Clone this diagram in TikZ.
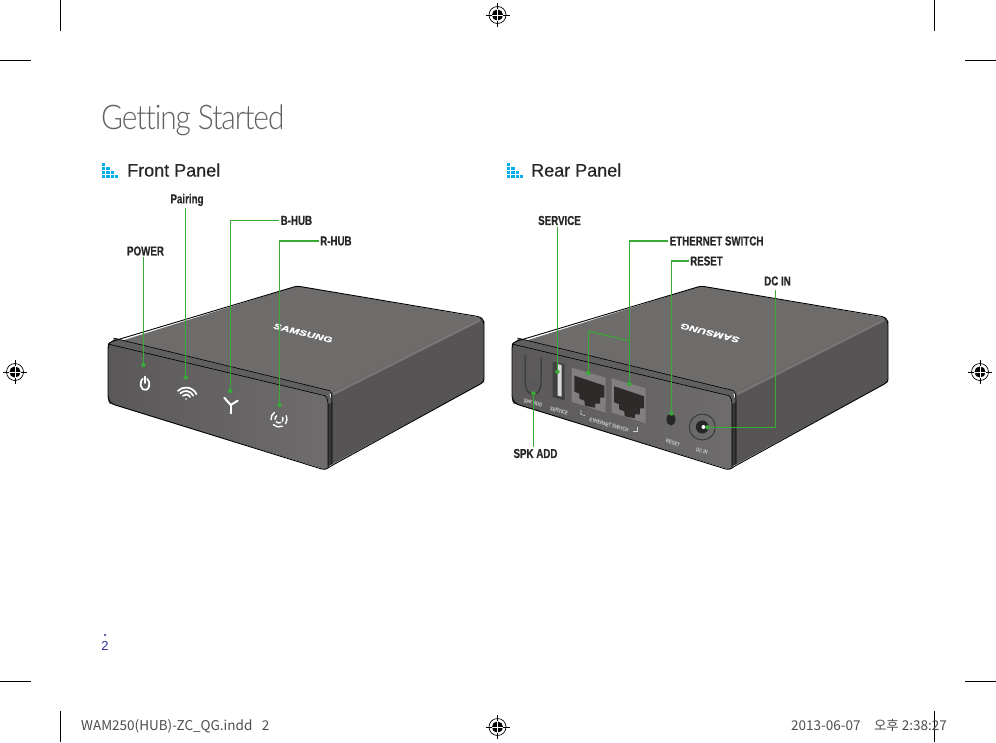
\documentclass[tikz,border=0pt]{standalone}
\usepackage{fontspec}
\setmainfont{Liberation Sans}
\newfontfamily\headfont[FakeBold=0.5]{Liberation Sans}
\newfontfamily\lblfont[FakeStretch=0.75,FakeBold=0.4]{Liberation Sans}
\newfontfamily\smallfont[FakeStretch=0.75]{Liberation Sans}
\newfontfamily\logofont[FakeStretch=1.45,FakeBold=1.2,LetterSpace=2]{Liberation Sans}
\newfontfamily\titlefont[UprightFont=* Light,FakeStretch=0.88,LetterSpace=-3.2,Ligatures=CommonOff]{Lato}
\newfontfamily\footfont{Noto Sans CJK KR}
\usetikzlibrary{positioning}
\usetikzlibrary{calc}
\definecolor{leadgreen}{RGB}{57,170,53}
\definecolor{barblue}{RGB}{0,174,239}
\definecolor{pageblue}{RGB}{46,49,146}
\definecolor{topface}{RGB}{110,107,107}
\definecolor{sideface}{RGB}{86,84,84}
\definecolor{edgelight}{RGB}{120,117,117}
\definecolor{panelleft}{RGB}{90,88,88}
\definecolor{panelright}{RGB}{110,108,108}
\definecolor{jackplate}{RGB}{128,126,126}
\definecolor{jackdark}{RGB}{45,42,42}
\tikzset{
    lbl/.style={font=\lblfont\bfseries\fontsize{13}{15}\selectfont, text=black!85, inner sep=1.5pt},
    heading/.style={font=\headfont\fontsize{18}{20}\selectfont, text=black!85, inner sep=0pt, anchor=base west},
    facetxt/.style={font=\smallfont\bfseries\fontsize{5.6}{6}\selectfont, text=white!82!black, inner sep=0pt, rotate=-16},
    logotxt/.style={font=\logofont\bfseries\itshape\fontsize{8}{9}\selectfont, text=white, inner sep=0pt},
    foot/.style={font=\footfont\fontsize{13.5}{15}\selectfont, text=black!70, inner sep=0pt, anchor=base west},
    leader/.style={draw=leadgreen, line width=1.1pt},
    leaddot/.style={circle, fill=leadgreen, inner sep=0pt, minimum size=4.4pt},
    icon/.style={draw=white, line width=1.7pt, line cap=round},
    hubshell/.pic={
        \fill[topface] (108,345) -- (297,286) -- (483,318) -- (330,394) -- cycle;
        \fill[sideface] (331,393) -- (481,318) -- (484,322) -- (484,382) -- (331,465) -- cycle;
        \draw[edgelight, line width=2.5pt] (333,394) -- (480,320);
        \fill[black!12!topface] (108,345) -- (115,338) -- (328,390) -- (332,402) -- (328,404) -- (322,395) -- cycle;
        \fill[black!35!sideface] (328,404) -- (332,402) -- (332,464) -- (328,467) -- cycle;
        \fill[left color=panelleft, right color=panelright] (108,344) -- (322,395) to[out=10,in=90] (328,404) -- (328,467) -- (325,469) -- (112,404) to[out=195,in=-90] (108,399) -- cycle;
        \draw[line width=0.9pt, rounded corners=3pt] (108,345) -- (110,342) -- (297,286) -- (481,317) -- (484,322) -- (484,382) -- (331,466) -- (325,470) -- (112,404) -- (108,399) -- cycle;
        \draw[line width=0.6pt] (113,338) -- (327,390) to[out=10,in=90] (332,402) -- (332,464);
        \draw[line width=0.6pt] (108,344) -- (322,395) to[out=10,in=90] (328,404) -- (328,467);
    },
    bars/.pic={
        \foreach \c/\t in {0/0,1/1,2/2,3/3}{
            \foreach \r in {\t,...,3}{
                \fill[barblue] (\c*4.25,\r*3.9) rectangle +(3.4,2.9);
            }
        }
    },
    regmark/.pic={
        \draw[line width=0.7pt] (0,0) circle (8.5pt);
        \fill (0,0) circle (5.6pt);
        \draw[line width=0.6pt] (-12,0) -- (12,0);
        \draw[line width=0.6pt] (0,-12) -- (0,12);
        \draw[white, line width=0.4pt] (-5.6,0) -- (5.6,0);
        \draw[white, line width=0.4pt] (0,-5.6) -- (0,5.6);
    },
    jack/.pic={
        \fill[jackplate] (0,0) -- (34,10) -- (34,45) -- (0,34) -- cycle;
        \fill[jackdark] (2.7,8) -- (32.7,18) -- (32.7,30) -- (28.3,30) -- (28.3,36) -- (23.3,36) -- (23.3,40) -- (13.3,38) -- (12.7,33) -- (7.7,31) -- (7.7,26) -- (2.7,24) -- cycle;
    }
}
\begin{document}
\begin{tikzpicture}[x=1pt, y=-1pt]
    \useasboundingbox (0,0) rectangle (996,742);

    % crop marks
    \foreach \mx in {60,934}{
        \draw[line width=0.8pt] (\mx,0) -- (\mx,31);
        \draw[line width=0.8pt] (\mx,711) -- (\mx,742);
    }
    \foreach \my in {60,681}{
        \draw[line width=0.8pt] (0,\my) -- (31,\my);
        \draw[line width=0.8pt] (965,\my) -- (996,\my);
    }
    \pic at (497.5,15) {regmark};
    \pic at (15,372) {regmark};
    \pic at (980,372) {regmark};
    \pic at (497.5,727) {regmark};

    % headings
    \node (title) [anchor=base west, inner sep=0pt, text=black!62, font=\titlefont\fontsize{34}{38}\selectfont] at (101,129) {Getting Started};
    \pic at (102,163) {bars};
    \pic at (507,163) {bars};
    \node (frontHead) [heading] at (127,176.5) {Front Panel};
    \node (rearHead) [heading] at (531,176.5) {Rear Panel};

    % both boxes
    \pic at (0,0) {hubshell};
    \pic at (404,0) {hubshell};
    \node (logoFront) [logotxt, rotate=-14] at (303,333) {SAMSUNG};
    \node (logoRear) [logotxt, rotate=166] at (710,333) {SAMSUNG};

    % front icons
    \begin{scope}[shift={(145,384)}, y=1pt]
        \draw[icon] (2.25,5.2) arc[start angle=60, end angle=-240, x radius=4.5pt, y radius=6pt];
        \draw[icon] (0,7.5) -- (0,1);
    \end{scope}
    \begin{scope}[shift={(186,399)}, y=1pt, rotate=-10]
        \fill[white] (0,0) circle (0.9pt);
        \foreach \rad in {4.5,8,11.5}{
            \draw[icon] (35:\rad pt) arc[start angle=35, end angle=145, radius=\rad pt];
        }
    \end{scope}
    \begin{scope}[shift={(230.7,405)}]
        \draw[icon, line width=2pt] (-6.4,-7.3) -- (0,0) -- (7,-4.3);
        \draw[icon, line width=2pt] (0,0) -- (0,8.3);
    \end{scope}
    \begin{scope}[shift={(279,419)}, y=1pt, rotate=-15]
        \foreach \rad in {4,8}{
            \draw[icon, line width=1.4pt] (140:\rad pt) arc[start angle=140, end angle=200, radius=\rad pt];
            \draw[icon, line width=1.4pt] (40:\rad pt) arc[start angle=40, end angle=-20, radius=\rad pt];
            \draw[icon, line width=1.4pt] (240:\rad pt) arc[start angle=240, end angle=310, radius=\rad pt];
        }
    \end{scope}

    % rear details
    \draw[line width=1pt, black!80] (525,355) -- (525,380) .. controls (525,390) and (529,394) .. (533.3,395) .. controls (538,394) and (541,390) .. (541,382) -- (541,357);
    \fill[black!65] (533.3,383) circle (5pt);
    \fill[black!75] (552.5,361.5) -- (564.5,364) -- (564.5,400.5) -- (552.5,397) -- cycle;
    \fill[white!85!black] (557.5,364) -- (561.5,365) -- (561.5,396.5) -- (557.5,395.5) -- cycle;
    \pic at (571.7,367.7) {jack};
    \begin{scope}[shift={(611.5,378.3)}, scale=1.06]
        \pic at (0,0) {jack};
    \end{scope}
    \fill[black!85] (671,419.5) ellipse (4.5pt and 6pt);
    \draw[line width=0.8pt, black!80] (702.3,427) circle (13pt);
    \fill[black!85] (702.3,427) circle (6.5pt);
    \fill[white] (703.5,427) circle (2pt);
    \node (txtSpk) [facetxt] at (533,403) {SPK ADD};
    \node (txtService) [facetxt] at (559,411) {SERVICE};
    \node (txtEthernet) [facetxt] at (609,425) {ETHERNET SWITCH};
    \node (txtReset) [facetxt] at (673,443) {RESET};
    \node (txtDc) [facetxt] at (702,451) {DC IN};
    \draw[white!82!black, line width=0.6pt] (581,410) -- (581,414.5) -- (585,415.5);
    \draw[white!82!black, line width=0.6pt] (633,431.5) -- (637,431.5) -- (637,427);

    % labels
    \node (lblPower) [lbl] at (145.5,251) {POWER};
    \node (lblPairing) [lbl] at (187,200) {Pairing};
    \node (lblBhub) [lbl, anchor=west] at (279,220.5) {B-HUB};
    \node (lblRhub) [lbl, anchor=west] at (318.5,241) {R-HUB};
    \node (lblService) [lbl] at (559.5,220.5) {SERVICE};
    \node (lblEthernet) [lbl, anchor=west] at (668,241) {ETHERNET SWITCH};
    \node (lblReset) [lbl, anchor=west] at (688.5,261) {RESET};
    \node (lblDc) [lbl] at (777.5,281) {DC IN};
    \node (lblSpk) [lbl] at (535.5,453.5) {SPK ADD};

    % leader ends
    \node (dotPower) [leaddot] at (143.4,365) {};
    \node (dotPairing) [leaddot] at (185.7,377.5) {};
    \node (dotBhub) [leaddot] at (230.2,391) {};
    \node (dotRhub) [leaddot] at (279.4,405) {};
    \node (dotService) [leaddot] at (557.4,371.7) {};
    \node (dotEthA) [leaddot] at (588.3,373) {};
    \node (dotEthB) [leaddot] at (629.4,384) {};
    \node (dotReset) [leaddot] at (671.4,413.5) {};
    \node (dotDc) [leaddot] at (707.5,427.3) {};
    \node (dotSpk) [leaddot] at (533.4,393.5) {};
    \coordinate (ethKnee) at (629.4,341);
    \coordinate (ethBend) at (588.3,331);
    \coordinate (dcTop) at (775.7,290);

    \draw[leader] (dotPower |- lblPower.south) -- (dotPower);
    \draw[leader] (dotPairing |- lblPairing.south) -- (dotPairing);
    \draw[leader] (lblBhub.west) -| (dotBhub);
    \draw[leader] (lblRhub.west) -| (dotRhub);
    \draw[leader] (dotService |- lblService.south) -- (dotService);
    \draw[leader] (lblEthernet.west) -| (dotEthB);
    \draw[leader] (ethKnee) -- (ethBend) -- (dotEthA);
    \draw[leader] (lblReset.west) -| (dotReset);
    \draw[leader] (dcTop) |- (dotDc);
    \draw[leader] (dotSpk |- lblSpk.north) -- (dotSpk);

    % page number and job line
    \fill[pageblue] (105,635) circle (1.2pt);
    \node (pageNum) [inner sep=0pt, text=pageblue, font=\fontsize{13}{15}\selectfont] at (105,645.5) {2};
    \node (jobName) [foot] at (81,730) {WAM250(HUB)-ZC\_QG.indd\hspace{0.7em}2};
    \node (jobDate) [foot] at (791,730) {2013-06-07\hspace{1em}오후 2:38:27};
\end{tikzpicture}
\end{document}
